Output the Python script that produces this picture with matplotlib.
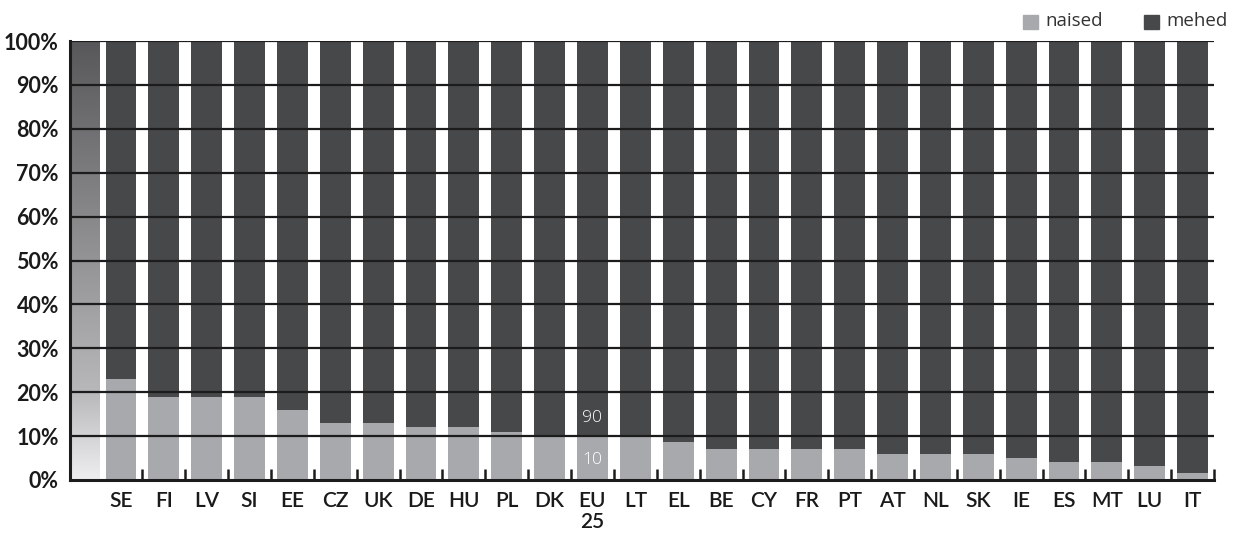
import numpy as np
import matplotlib
matplotlib.use("Agg")
import matplotlib.pyplot as plt
from matplotlib.colors import LinearSegmentedColormap
from matplotlib.patches import Rectangle

# Share of women and men by country (%)
countries = ["SE", "FI", "LV", "SI", "EE", "CZ", "UK", "DE", "HU", "PL", "DK",
             "EU\n25", "LT", "EL", "BE", "CY", "FR", "PT", "AT", "NL", "SK",
             "IE", "ES", "MT", "LU", "IT"]
women = [23, 19, 19, 19, 16, 13, 13, 12, 12, 11, 10,
         10, 10, 8.6, 7, 7, 7, 7, 6, 6, 6,
         5, 4.2, 4.2, 3.3, 1.6]
men = [100 - w for w in women]
y_ticks = [0, 10, 20, 30, 40, 50, 60, 70, 80, 90, 100]
legend_labels = ["naised", "mehed"]

c_women = "#a8a9ac"
c_men = "#47484a"

fig = plt.figure(figsize=(12.35, 5.33), dpi=100)
ax = fig.add_axes([70 / 1235, 1 - 480 / 533, (1214 - 70) / 1235, (480 - 41) / 533])

x = np.arange(len(countries))
bw = 0.72
ax.bar(x, women, width=bw, color=c_women, zorder=2)
ax.bar(x, men, bottom=women, width=bw, color=c_men, zorder=2)

x_left = -1.19
# decorative gradient column at the left edge
grad = np.linspace(0, 1, 256).reshape(-1, 1)
cmap = LinearSegmentedColormap.from_list(
    "g", [(0, "#eeeef0"), (0.2, "#b8b8ba"), (1, "#58585a")])
ax.imshow(grad, extent=[x_left, -0.51, 0, 100], origin="lower", aspect="auto",
          cmap=cmap, zorder=1)

# value labels on the EU25 column
eu = countries.index("EU\n25")
ax.text(eu, women[eu] / 2 - 0.5, f"{women[eu]:g}", color="white", ha="center",
        va="center", fontsize=12.5, family="Open Sans", fontweight="light",
        zorder=4)
ax.text(eu, women[eu] + 4.1, f"{men[eu]:g}", color="white", ha="center",
        va="center", fontsize=12.5, family="Open Sans", fontweight="light",
        zorder=4)

ax.set_xlim(x_left, len(countries) - 0.5)
ax.set_ylim(0, 100)

for v in y_ticks[1:]:
    ax.axhline(v, color="#1c1c1c", lw=1.6, zorder=3)

ax.set_yticks(y_ticks)
ax.set_yticklabels([f"{v}%" for v in y_ticks], family="Lato", fontweight="bold",
                   fontsize=15.5, color="#1a1a1a")
ax.tick_params(axis="y", length=0, pad=8)

ax.set_xticks(x)
ax.set_xticklabels(countries, family="Lato", fontweight="semibold",
                   fontsize=15, color="#1a1a1a", linespacing=1.05)
ax.tick_params(axis="x", which="major", length=0, pad=8)
ax.set_xticks(x + 0.5, minor=True)
ax.tick_params(axis="x", which="minor", direction="in", length=8, width=1.8,
               color="#1c1c1c")

for s in ["top", "right"]:
    ax.spines[s].set_visible(False)
for s in ["left", "bottom"]:
    ax.spines[s].set_linewidth(2.2)
    ax.spines[s].set_color("#1c1c1c")
    ax.spines[s].set_zorder(5)

# legend in the top right corner
for (lx, label, col) in [(1023, legend_labels[0], c_women),
                         (1144, legend_labels[1], c_men)]:
    fig.add_artist(Rectangle((lx / 1235, 1 - 29 / 533), 15 / 1235, 14 / 533,
                             transform=fig.transFigure, color=col))
    fig.text((lx + 22) / 1235, 1 - 21 / 533, label, family="Open Sans",
             fontsize=13.5, color="#333333", va="center", ha="left")

fig.savefig("out.png", dpi=100)
